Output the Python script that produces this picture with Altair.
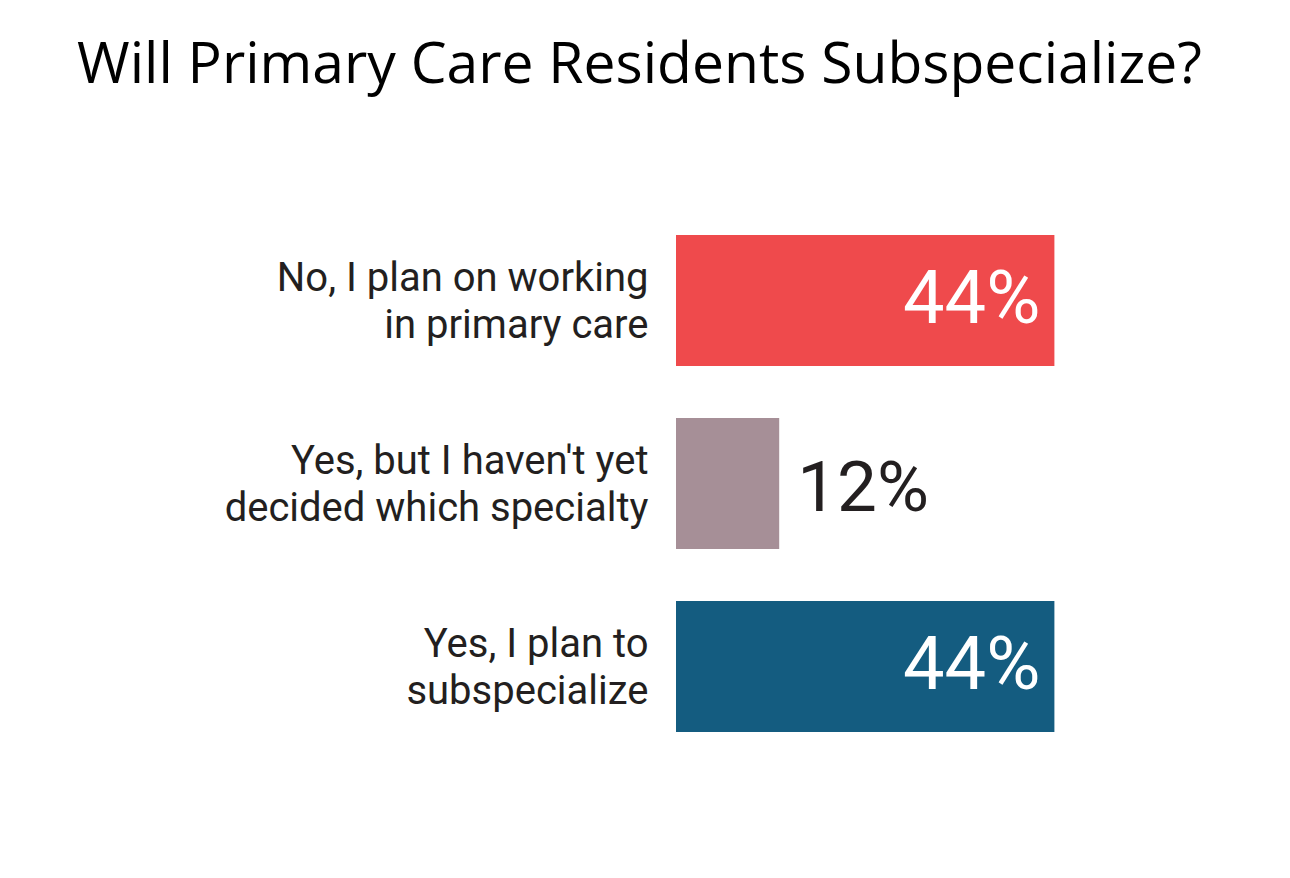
import altair as alt
import pandas as pd

categories = [
    "No, I plan on working|in primary care",
    "Yes, but I haven't yet|decided which specialty",
    "Yes, I plan to|subspecialize",
]
values = [44, 12, 44]
colors = ["#EF4A4C", "#A68F97", "#145C80"]

df = pd.DataFrame({"cat": categories, "value": values, "color": colors})
df["label"] = df["value"].astype(str) + "%"

y = alt.Y(
    "cat:N",
    sort=categories,
    title=None,
    scale=alt.Scale(paddingInner=0.284, paddingOuter=0.142),
    axis=alt.Axis(
        domain=False,
        ticks=False,
        labelExpr="split(datum.label, '|')",
        labelFont="Roboto",
        labelFontSize=40,
        labelColor="#231F20",
        labelPadding=28,
        labelLineHeight=47,
        labelOffset=-22,
        labelLimit=600,
    ),
)
x = alt.X("value:Q", scale=alt.Scale(domain=[0, 50]), axis=None)

base = alt.Chart(df)

bars = base.mark_bar().encode(
    x=x, y=y, color=alt.Color("color:N", scale=None)
)

inside = base.transform_filter("datum.value >= 20").mark_text(
    align="right", baseline="middle", dx=-14, dy=0, font="Roboto", fontSize=74, color="white"
).encode(x=x, y=y, text="label:N")

outside = base.transform_filter("datum.value < 20").mark_text(
    align="left", baseline="middle", dx=18, dy=6, font="Roboto", fontSize=71, color="#231F20"
).encode(x=x, y=y, text="label:N")

chart = (
    alt.layer(bars, inside, outside)
    .properties(
        width=430,
        height=549,
        background="white",
        autosize=alt.AutoSizeParams(type="none"),
        padding={"left": 676, "top": 209, "right": 184, "bottom": 120},
        title=alt.TitleParams(
            "Will Primary Care Residents Subspecialize?",
            anchor="start",
            frame="group",
            dx=-599,
            offset=69,
            baseline="alphabetic",
            font="Open Sans",
            fontSize=57,
            fontWeight="normal",
            color="#000000",
        ),
    )
    .configure_view(strokeWidth=0, stroke="transparent")
)

chart.save("out.html", embed_options={"renderer": "svg", "actions": False})
